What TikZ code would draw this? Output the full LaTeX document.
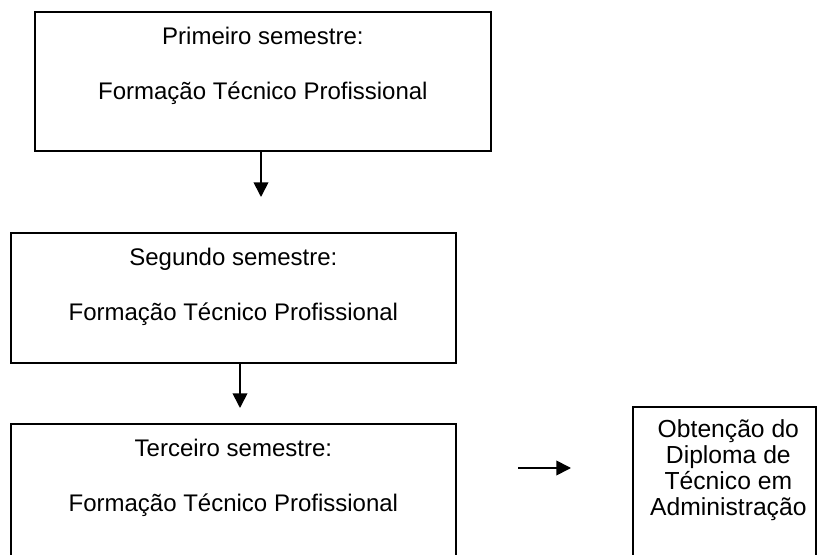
\documentclass[tikz,border=0pt]{standalone}
\usepackage{fontspec}
\setmainfont{Liberation Sans}
\usetikzlibrary{arrows.meta,positioning}

\begin{document}
\begin{tikzpicture}[x=0.75pt,y=-0.75pt,
	caixa/.style={draw=black,line width=1.3pt,anchor=north west,inner sep=0pt},
	texto/.style={align=center,inner sep=0pt,font=\fontsize{18}{41.25}\selectfont},
	textodip/.style={align=center,inner sep=0pt,font=\fontsize{18.5}{19.5}\selectfont},
	seta/.style={-{Triangle[length=11pt,width=11pt]},line width=1.3pt,color=black}]
		\useasboundingbox (0,0) rectangle (821,555);
		\clip (0,0) rectangle (821,555);

		% caixas
		\node[caixa,minimum width=342pt,minimum height=104.25pt] (sem1) at (34,11) {};
		\node[caixa,minimum width=333.75pt,minimum height=97.5pt] (sem2) at (10,232) {};
		\node[caixa,minimum width=333.75pt,minimum height=150pt] (sem3) at (10,423) {};
		\node[caixa,minimum width=137.25pt,minimum height=150pt] (diploma) at (632,406) {};

		% textos
		\node[texto,below=12pt of sem1.north] (sem1txt) {Primeiro semestre:\\Formação Técnico Profissional};
		\node[texto,below=12pt of sem2.north] (sem2txt) {Segundo semestre:\\Formação Técnico Profissional};
		\node[texto,below=12pt of sem3.north] (sem3txt) {Terceiro semestre:\\Formação Técnico Profissional};
		\node[textodip,below=10pt of diploma.north,xshift=3pt] (diptxt) {Obtenção do\\Diploma de\\Técnico em\\Administração};

		% setas
		\coordinate (p1) at (261,197);
		\coordinate (p2) at (240,408);
		\coordinate (p3a) at (518,468);
		\coordinate (p3b) at (571,468);
		\draw[seta] (sem1.south -| p1) -- (p1);
		\draw[seta] (sem2.south -| p2) -- (p2);
		\draw[seta] (p3a) -- (p3b);
\end{tikzpicture}
\end{document}
